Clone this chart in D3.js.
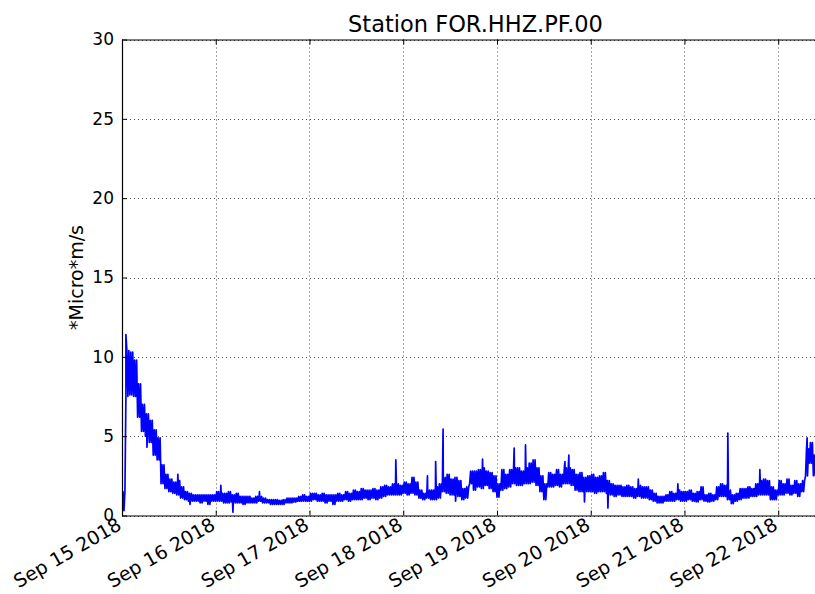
<!DOCTYPE html>
<html>
<head>
<meta charset="utf-8">
<script src="https://cdn.jsdelivr.net/npm/d3@7"></script>
<style>
  body { margin: 0; background: #fff; }
  text { font-family: "DejaVu Sans", sans-serif; fill: #000; }
</style>
</head>
<body>
<script>
// hourly envelope of the trace (hours since Sep 15 2018 00:00)
var startTime = new Date(Date.UTC(2018, 8, 15));
var loVals = [
  0.3, 7.5, 7.6, 7.5, 6.2, 5.3, 5.0, 4.6, 3.8, 3.5,
  2.0, 1.7, 1.5, 1.4, 1.3, 1.1, 1.0, 0.9, 0.9, 0.9,
  0.8, 0.9, 0.7, 0.9, 0.9, 0.9, 0.8, 0.8, 0.85, 0.8,
  0.8, 0.7, 0.8, 0.8, 0.8, 0.9, 0.8, 0.8, 0.7, 0.7,
  0.7, 0.7, 0.8, 0.8, 0.85, 0.9, 0.9, 0.9, 0.9, 1.0,
  0.9, 0.9, 0.8, 0.9, 0.7, 0.9, 0.9, 1.0, 0.9, 1.0,
  1.0, 1.0, 1.1, 1.0, 1.1, 1.0, 1.1, 1.2, 1.3, 1.3,
  1.3, 1.3, 1.4, 1.3, 1.4, 1.3, 1.1, 1.0, 1.1, 1.0,
  1.0, 1.1, 1.5, 1.4, 1.3, 1.3, 1.2, 1.0, 1.1, 2.0,
  1.6, 1.8, 1.7, 1.9, 1.7, 1.5, 1.15, 1.6, 1.7, 1.8,
  2.0, 1.9, 1.9, 2.0, 2.0, 2.1, 1.9, 1.5, 1.0, 1.8,
  1.8, 1.9, 1.8, 2.0, 2.0, 1.9, 1.6, 1.5, 1.5, 1.5,
  1.5, 1.4, 1.5, 1.5, 1.4, 1.3, 1.2, 1.3, 1.2, 1.2,
  1.2, 1.1, 1.2, 1.1, 1.1, 1.0, 0.9, 0.8, 0.8, 0.9,
  0.9, 0.9, 1.0, 0.9, 0.9, 1.0, 0.9, 0.85, 1.0, 0.9,
  0.85, 0.9, 1.0, 1.2, 1.2, 1.0, 0.75, 0.9, 1.0, 1.1,
  1.1, 1.2, 1.2, 1.3, 1.3, 1.3, 1.0, 1.0, 1.3, 1.3,
  1.4, 1.3, 1.4, 1.2, 1.5, 2.5, 3.3, 2.5, 1.8
];
var hiVals = [
  1.5, 10.4, 10.3, 9.8, 8.3, 7.0, 6.4, 6.0, 5.4, 4.9,
  3.2, 2.6, 2.3, 2.1, 2.2, 1.8, 1.5, 1.4, 1.3, 1.3,
  1.3, 1.3, 1.3, 1.3, 1.5, 1.4, 1.4, 1.5, 1.3, 1.4,
  1.2, 1.2, 1.2, 1.1, 1.2, 1.2, 1.1, 1.0, 1.0, 1.0,
  0.95, 1.0, 1.1, 1.1, 1.1, 1.2, 1.3, 1.2, 1.4, 1.4,
  1.3, 1.4, 1.3, 1.3, 1.3, 1.4, 1.3, 1.5, 1.4, 1.6,
  1.5, 1.7, 1.6, 1.6, 1.7, 1.6, 1.8, 1.9, 1.8, 2.0,
  2.0, 1.9, 2.1, 2.0, 2.4, 2.1, 1.6, 1.4, 1.6, 1.6,
  1.8, 2.0, 2.4, 2.6, 2.3, 2.4, 2.2, 1.7, 1.8, 2.8,
  2.8, 2.9, 3.0, 2.8, 2.7, 2.5, 2.0, 2.9, 2.6, 2.9,
  3.0, 3.0, 2.8, 3.0, 3.3, 3.5, 3.0, 2.5, 2.0, 2.7,
  2.6, 2.9, 2.6, 3.0, 3.0, 2.9, 2.6, 2.7, 2.4, 2.5,
  2.6, 2.4, 2.5, 2.7, 2.2, 2.0, 1.9, 1.9, 1.8, 1.9,
  1.8, 1.7, 1.9, 1.8, 1.8, 1.6, 1.4, 1.2, 1.2, 1.3,
  1.5, 1.4, 1.6, 1.5, 1.5, 1.6, 1.4, 1.5, 1.8, 1.3,
  1.4, 1.3, 1.8, 2.0, 1.9, 1.6, 1.3, 1.4, 1.7, 1.7,
  1.8, 1.7, 2.0, 2.2, 2.3, 2.2, 1.8, 1.6, 2.2, 2.0,
  2.3, 1.9, 2.2, 2.0, 2.2, 4.2, 4.6, 3.8, 3.0
];
// isolated one-sample excursions: [hour, value]
var spikes = [
  [1.0, 11.4], [6.4, 4.3], [14.3, 2.6], [17.4, 0.7], [25.3, 1.9],
  [28.4, 0.2], [35.2, 1.5], [70.1, 3.5], [78.2, 2.5], [80.3, 3.4],
  [82.2, 5.45], [85.4, 0.9], [92.3, 3.55], [100.4, 4.25], [103.3, 4.45],
  [113.4, 3.4], [114.4, 3.8], [118.4, 0.85], [124.4, 0.47], [132.2, 2.3],
  [142.3, 2.0], [155.1, 5.2], [163.3, 2.9], [175.4, 4.9]
];
var dayTicks = [15, 16, 17, 18, 19, 20, 21, 22];
var dayLabels = ["Sep 15 2018", "Sep 16 2018", "Sep 17 2018", "Sep 18 2018",
                 "Sep 19 2018", "Sep 20 2018", "Sep 21 2018", "Sep 22 2018"];
var yTicks = [0, 5, 10, 15, 20, 25, 30];

var width = 815, height = 594;
var mLeft = 122, mTop = 39.5, mRight = 829, mBottom = 515.5;

var svg = d3.select('body').append('svg')
    .attr('width', width)
    .attr('height', height);

var x = d3.scaleUtc()
    .domain([startTime, d3.utcHour.offset(startTime, 24 * 7.57)])
    .range([mLeft, mRight]);
var y = d3.scaleLinear()
    .domain([0, 30])
    .range([mBottom, mTop]);

var tickDates = dayTicks.map(function(d) { return new Date(Date.UTC(2018, 8, d)); });

// points: each hour swings lo/hi twice, spikes merged in at their own time
var points = [];
loVals.forEach(function(lo, i) {
  points.push([i, lo], [i + 0.25, hiVals[i]], [i + 0.5, lo], [i + 0.75, hiVals[i]]);
});
spikes.forEach(function(s) { points.push([s[0], s[1]]); });
points.sort(function(a, b) { return a[0] - b[0]; });

svg.append('clipPath').attr('id', 'clip')
  .append('rect')
    .attr('x', mLeft).attr('y', mTop)
    .attr('width', mRight - mLeft).attr('height', mBottom - mTop);

// grid
var grid = svg.append('g')
    .attr('stroke', '#000')
    .attr('stroke-width', 0.7)
    .attr('stroke-dasharray', '1,3');
grid.selectAll('.vg')
    .data(tickDates)
  .enter().append('line')
    .attr('x1', function(d) { return Math.round(x(d)) + 0.5; })
    .attr('x2', function(d) { return Math.round(x(d)) + 0.5; })
    .attr('y1', mTop).attr('y2', mBottom);
grid.selectAll('.hg')
    .data(yTicks)
  .enter().append('line')
    .attr('x1', mLeft).attr('x2', mRight)
    .attr('y1', function(d) { return Math.round(y(d)) + 0.5; })
    .attr('y2', function(d) { return Math.round(y(d)) + 0.5; });

// trace
svg.append('path')
    .datum(points)
    .attr('clip-path', 'url(#clip)')
    .attr('fill', 'none')
    .attr('stroke', '#0000ff')
    .attr('stroke-width', 1.7)
    .attr('stroke-linejoin', 'round')
    .attr('d', d3.line()
        .x(function(d) { return x(d3.utcMinute.offset(startTime, d[0] * 60)); })
        .y(function(d) { return y(d[1]); }));

// axes (matplotlib style: inward ticks)
var xAxisB = svg.append('g')
    .attr('transform', 'translate(0,' + mBottom + ')')
    .call(d3.axisBottom(x).tickValues(tickDates).tickSizeInner(-5).tickSizeOuter(0).tickFormat(''));
var xAxisT = svg.append('g')
    .attr('transform', 'translate(0,' + mTop + ')')
    .call(d3.axisTop(x).tickValues(tickDates).tickSizeInner(-5).tickSizeOuter(0).tickFormat(''));
var yAxis = svg.append('g')
    .attr('transform', 'translate(' + mLeft + ',0)')
    .call(d3.axisLeft(y).tickValues(yTicks).tickSizeInner(-5).tickSizeOuter(0).tickPadding(8));
yAxis.selectAll('text')
    .style('font-size', '17px')
    .style('font-family', '"DejaVu Sans", sans-serif');
[xAxisB, xAxisT, yAxis].forEach(function(a) {
  a.select('.domain').attr('stroke', '#000').attr('stroke-width', 1.2);
  a.selectAll('.tick line').attr('stroke', '#000');
});

// rotated date labels
svg.selectAll('.xlabel')
    .data(tickDates)
  .enter().append('text')
    .attr('class', 'xlabel')
    .attr('transform', function(d) {
        return 'translate(' + (x(d) - 6) + ',' + (mBottom + 1) + ') rotate(-30)';
    })
    .attr('text-anchor', 'end')
    .attr('dy', '0.72em')
    .style('font-size', '19px')
    .text(function(d, i) { return dayLabels[i]; });

// title and y label
svg.append('text')
    .attr('x', (mLeft + mRight) / 2)
    .attr('y', 32)
    .attr('text-anchor', 'middle')
    .style('font-size', '22.5px')
    .text('Station FOR.HHZ.PF.00');

svg.append('text')
    .attr('transform', 'translate(83,' + ((mTop + mBottom) / 2) + ') rotate(-90)')
    .attr('text-anchor', 'middle')
    .style('font-size', '19px')
    .text('*Micro*m/s');
</script>
</body>
</html>
